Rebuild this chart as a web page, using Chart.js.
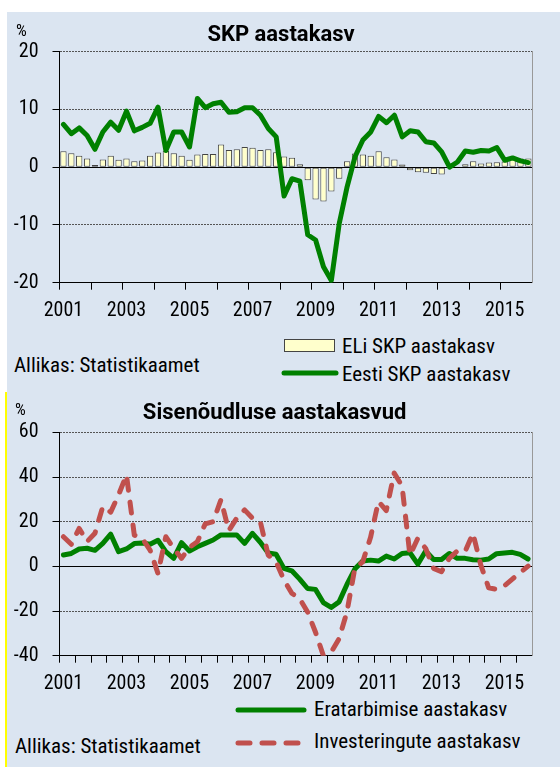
<!DOCTYPE html>
<html>
<head>
<meta charset="utf-8">
<script src="https://cdn.jsdelivr.net/npm/chart.js@4/dist/chart.umd.min.js"></script>
<style>
  html, body { margin: 0; padding: 0; background: #fff; }
  body { width: 560px; height: 767px; position: relative; overflow: hidden;
         font-family: "Roboto Condensed", "Liberation Sans Narrow", Roboto, sans-serif; color: #000; }
  .panel { position: absolute; left: 7px; width: 553px; background: #dbe5f1; }
  .panel canvas { position: absolute; left: 0; top: 0; }
  .txt { position: absolute; font-size: 21px; line-height: 21px; white-space: nowrap; }
  .pct { position: absolute; font-size: 17px; line-height: 17px; }
  .swatch { position: absolute; }
</style>
</head>
<body>
<div class="panel" id="panel1" style="top:12px;height:380px;">
  <canvas id="gdpChart" width="553" height="310"></canvas>
  <div class="pct" style="left:9px;top:10px;">%</div>
  <div class="swatch" style="left:277px;top:327px;width:49px;height:11px;background:#ffffcc;border:1px solid #444;"></div>
  <div class="txt" style="left:335px;top:324px;">ELi SKP aastakasv</div>
  <svg class="swatch" style="left:274px;top:357px;" width="58" height="8"><line x1="3" y1="4" x2="55" y2="4" stroke="#008000" stroke-width="5" stroke-linecap="round"/></svg>
  <div class="txt" style="left:335px;top:352px;">Eesti SKP aastakasv</div>
  <div class="txt" style="left:7px;top:343px;">Allikas: Statistikaamet</div>
</div>
<div style="position:absolute;left:5px;top:392px;width:2px;height:375px;background:#ffff00;"></div>
<div class="panel" id="panel2" style="top:392px;height:375px;">
  <canvas id="demandChart" width="553" height="305"></canvas>
  <div class="pct" style="left:8px;top:9px;">%</div>
  <svg class="swatch" style="left:228px;top:314px;" width="72" height="8"><line x1="3" y1="4" x2="69" y2="4" stroke="#008000" stroke-width="5" stroke-linecap="round"/></svg>
  <div class="txt" style="left:307px;top:307px;">Eratarbimise aastakasv</div>
  <svg class="swatch" style="left:228px;top:347px;" width="66" height="8"><line x1="3" y1="4" x2="63" y2="4" stroke="#c0504d" stroke-width="5" stroke-linecap="round" stroke-dasharray="12 12"/></svg>
  <div class="txt" style="left:307px;top:339px;">Investeringute aastakasv</div>
  <div class="txt" style="left:8px;top:344px;">Allikas: Statistikaamet</div>
</div>

<script>
// quarterly data, 2001 I kv - 2015 IV kv
const years = ['2001', '2002', '2003', '2004', '2005', '2006', '2007', '2008',
               '2009', '2010', '2011', '2012', '2013', '2014', '2015'];
const quarterNames = ['I', 'II', 'III', 'IV'];

// SKP aastakasv
const euGdp = [2.77, 2.43, 1.97, 1.5, 0.4, 1.33, 1.97, 1.27, 1.5, 1.04, 1.16, 2.0,
               2.54, 2.83, 2.43, 2.0, 1.27, 2.2, 2.3, 2.3, 3.93, 3.0, 3.12, 3.5,
               3.35, 3.0, 3.12, 2.6, 1.85, 1.62, 0.52, -2.25, -5.6, -5.95, -4.2, -2.0,
               1.04, 2.37, 2.2, 2.0, 2.77, 1.73, 1.33, 0.46, -0.52, -0.87, -0.98, -1.16,
               -1.27, -0.2, 0.1, 0.52, 1.04, 0.64, 0.8, 0.87, 1.0, 1.4, 1.5, 1.5];
const estoniaGdp = [7.4, 5.8, 6.8, 5.5, 3.1, 6.1, 7.8, 6.4, 9.7, 6.3, 6.9, 7.6,
                    10.4, 2.9, 6.1, 6.1, 3.5, 11.9, 10.3, 11.0, 11.25, 9.5, 9.6, 10.3,
                    10.3, 9.0, 6.7, 5.25, -5.0, -2.0, -2.4, -11.7, -12.6, -17.25, -19.6, -9.75,
                    -3.4, 1.8, 4.7, 6.1, 8.8, 7.7, 9.0, 5.25, 6.3, 6.1, 4.4, 4.2,
                    2.65, 0, 0.9, 2.8, 2.6, 2.9, 2.8, 3.4, 1.2, 1.6, 1.1, 0.8];

// Sisenõudluse aastakasvud
const consumption = [5.1, 5.8, 7.8, 8.1, 7.2, 10.3, 14.4, 6.6, 7.8, 10.2, 10.5, 9.9,
                     11.7, 6.6, 3.6, 10.6, 6.9, 8.8, 10.3, 11.8, 14.1, 14.1, 14.1, 10.3,
                     14.8, 10.8, 6.0, 5.4, -0.9, -2.0, -5.7, -9.9, -10.3, -16.2, -18.4, -15.9,
                     -8.1, -1.2, 2.4, 2.8, 2.4, 4.6, 3.3, 5.8, 6.1, 1.0, 6.9, 3.1,
                     3.1, 5.8, 3.6, 3.6, 3.0, 2.8, 3.3, 5.7, 6.0, 6.3, 5.4, 3.3];
const investment = [13.3, 9.9, 17, 11.1, 14.8, 26.8, 24.3, 32, 41, 14, 12.6, 7.3,
                    -3.1, 13.3, 8.1, 3.6, 8.5, 11, 19, 20, 29.8, 16, 21.6, 25.3,
                    21.6, 20, 5.1, 2.1, -6.1, -12, -14.5, -20.4, -29.4, -39.9, -38.4, -32.4,
                    -20.4, -0.9, 2, 13, 29.1, 25, 41.8, 36, 5, 12.6, 8, -0.9,
                    -2.4, 3.6, 6.9, 6.6, 14.8, 0.6, -9.6, -10.3, -8.7, -5.7, -2.8, 0.1];

const quarterLabels = [];
years.forEach(function (y) {
    quarterNames.forEach(function (q) { quarterLabels.push(y + ' ' + q); });
});

const FONT = '"Roboto Condensed", "Liberation Sans Narrow", Roboto, sans-serif';
const GREEN = '#008000';
const RED = '#c0504d';

// common axis setup for both panels
function buildScales(yMin, yMax, yStep, tickEvery, xHeight, rightWidth) {
    return {
        x: {
            type: 'category',
            offset: true,
            grid: {
                offset: true,
                drawOnChartArea: false,
                drawTicks: true,
                tickLength: 7,
                tickWidth: 1,
                tickColor: function (ctx) { return ctx.index % tickEvery === 0 ? '#000' : 'rgba(0,0,0,0)'; }
            },
            border: { display: true, color: '#000', width: 1 },
            ticks: {
                autoSkip: false,
                maxRotation: 0,
                minRotation: 0,
                padding: 9,
                color: '#000',
                font: { family: FONT, size: 20 },
                callback: function (value, index) {
                    return index % 8 === 0 ? years[index / 4] : '';
                }
            },
            afterFit: function (s) { s.height = xHeight; }
        },
        y: {
            min: yMin,
            max: yMax,
            ticks: { stepSize: yStep, padding: 14, color: '#000', font: { family: FONT, size: 20 } },
            grid: { color: '#555', lineWidth: 1, drawTicks: true, tickLength: 7, tickColor: '#000', tickBorderDash: [] },
            border: { display: true, color: '#000', width: 1, dash: [2, 1] },
            afterFit: function (s) { s.width = 52.5; }
        },
        // solid zero line
        yz: {
            position: 'left',
            min: yMin,
            max: yMax,
            afterBuildTicks: function (s) { s.ticks = [{ value: 0 }]; },
            ticks: { display: false },
            grid: { color: '#000', lineWidth: 1, drawTicks: false },
            border: { display: false },
            afterFit: function (s) { s.width = 0; }
        },
        // grey frame line on the right
        yr: {
            position: 'right',
            min: yMin,
            max: yMax,
            ticks: { display: false },
            grid: { display: false },
            border: { display: true, color: '#999', width: 1 },
            afterFit: function (s) { s.width = rightWidth; }
        }
    };
}

function titleOptions(text, top, bottom) {
    return {
        display: true,
        text: text,
        color: '#000',
        font: { family: 'Roboto', size: 22, weight: 'bold' },
        padding: { top: top, bottom: bottom }
    };
}

new Chart(document.getElementById('gdpChart'), {
    type: 'bar',
    data: {
        labels: quarterLabels,
        datasets: [{
            type: 'line',
            label: 'Eesti SKP aastakasv',
            data: estoniaGdp,
            borderColor: GREEN,
            borderWidth: 5,
            pointRadius: 0,
            tension: 0,
            borderJoinStyle: 'round',
            borderCapStyle: 'round',
            order: 0
        }, {
            type: 'bar',
            label: 'ELi SKP aastakasv',
            data: euGdp,
            backgroundColor: '#ffffcc',
            borderColor: '#444',
            borderWidth: 1,
            borderSkipped: false,
            barPercentage: 0.8,
            categoryPercentage: 1,
            order: 1
        }]
    },
    options: {
        responsive: false,
        animation: false,
        layout: { padding: { left: 0, right: 5, top: 0, bottom: 0 } },
        plugins: {
            legend: { display: false },
            tooltip: { enabled: false },
            title: titleOptions('SKP aastakasv', 10, 3.3)
        },
        scales: buildScales(-20, 20, 10, 4, 39.3, 22.7)
    }
});

new Chart(document.getElementById('demandChart'), {
    type: 'line',
    data: {
        labels: quarterLabels,
        datasets: [{
            label: 'Eratarbimise aastakasv',
            data: consumption,
            borderColor: GREEN,
            borderWidth: 5,
            pointRadius: 0,
            tension: 0,
            borderJoinStyle: 'round',
            borderCapStyle: 'round',
            order: 1
        }, {
            label: 'Investeringute aastakasv',
            data: investment,
            borderColor: RED,
            borderWidth: 5,
            borderDash: [11, 12],
            pointRadius: 0,
            tension: 0,
            borderJoinStyle: 'round',
            borderCapStyle: 'round',
            order: 0
        }]
    },
    options: {
        responsive: false,
        animation: false,
        layout: { padding: { left: 0, right: 17.8, top: 0, bottom: 0 } },
        plugins: {
            legend: { display: false },
            tooltip: { enabled: false },
            title: titleOptions('Sisenõudluse aastakasvud', 8, 6)
        },
        scales: buildScales(-40, 60, 20, 2, 41.3, 10.2)
    }
});
</script>
</body>
</html>
